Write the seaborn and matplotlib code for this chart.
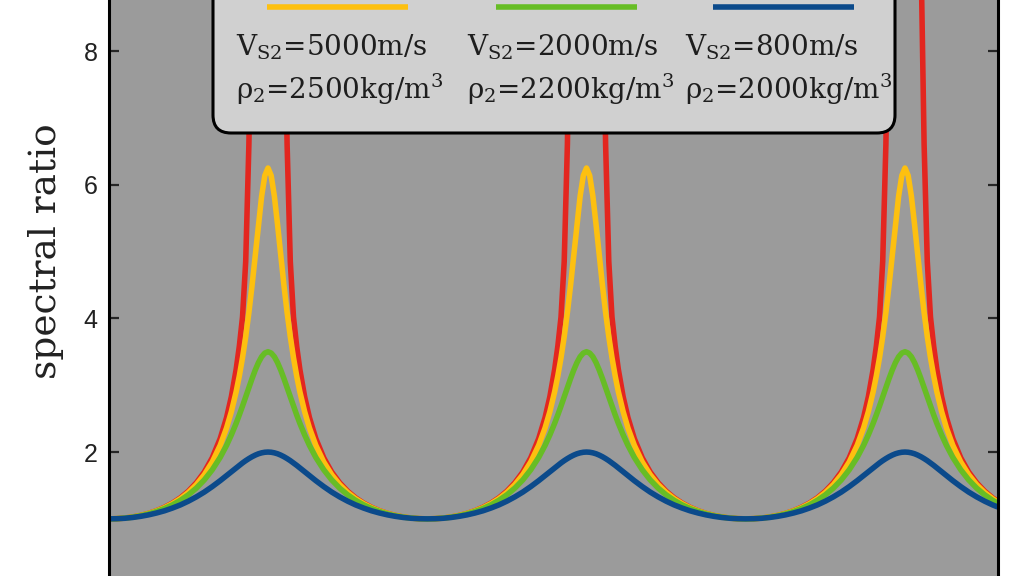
import pandas as pd
import seaborn as sns
import matplotlib.pyplot as plt
from matplotlib.lines import Line2D
from matplotlib.patches import FancyBboxPatch
from matplotlib.transforms import IdentityTransform

W, H = 1023, 576

# normalised frequency (resonance peaks at 1, 3, 5)
freq = [0.0, 0.05, 0.1, 0.15, 0.2, 0.25, 0.3, 0.35, 0.4, 0.45, 0.5, 0.55, 0.6, 0.65, 0.7, 0.74, 0.77, 0.8,
        0.82, 0.84, 0.86, 0.88, 0.9, 0.92, 0.94, 0.96, 0.98, 1.0, 1.02, 1.04, 1.06, 1.08, 1.1, 1.12, 1.14,
        1.16, 1.18, 1.2, 1.23, 1.26, 1.3, 1.35, 1.4, 1.45, 1.5, 1.55, 1.6, 1.65, 1.7, 1.75, 1.8, 1.85, 1.9, 1.95,
        2.0, 2.05, 2.1, 2.15, 2.2, 2.25, 2.3, 2.35, 2.4, 2.45, 2.5, 2.55, 2.6, 2.65, 2.7, 2.74, 2.77, 2.8,
        2.82, 2.84, 2.86, 2.88, 2.9, 2.92, 2.94, 2.96, 2.98, 3.0, 3.02, 3.04, 3.06, 3.08, 3.1, 3.12, 3.14,
        3.16, 3.18, 3.2, 3.23, 3.26, 3.3, 3.35, 3.4, 3.45, 3.5, 3.55, 3.6, 3.65, 3.7, 3.75, 3.8, 3.85, 3.9, 3.95,
        4.0, 4.05, 4.1, 4.15, 4.2, 4.25, 4.3, 4.35, 4.4, 4.45, 4.5, 4.55, 4.6, 4.65, 4.7, 4.74, 4.77, 4.8,
        4.82, 4.84, 4.86, 4.88, 4.9, 4.92, 4.94, 4.96, 4.98, 5.0, 5.02, 5.04, 5.06, 5.08, 5.1, 5.12, 5.14,
        5.16, 5.18, 5.2, 5.23, 5.26, 5.3, 5.35, 5.4, 5.45, 5.5, 5.55, 5.58]

ratio_rigid = [
    1.000, 1.003, 1.012, 1.028, 1.051, 1.082, 1.122, 1.173, 1.236, 1.315, 1.414, 1.540, 1.701, 1.914, 2.203, 2.518, 2.829, 3.236,
    3.584, 4.021, 4.85, 6.60, 9.50, 12.5, 16.0, 19.0, 22.0, 24.0, 22.0, 19.0, 16.0, 12.5, 9.50, 6.60, 4.85,
    4.021, 3.584, 3.236, 2.829, 2.518, 2.203, 1.914, 1.701, 1.540, 1.414, 1.315, 1.236, 1.173, 1.122, 1.082, 1.051, 1.028, 1.012, 1.003,
    1.000, 1.003, 1.012, 1.028, 1.051, 1.082, 1.122, 1.173, 1.236, 1.315, 1.414, 1.540, 1.701, 1.914, 2.203, 2.518, 2.829, 3.236,
    3.584, 4.021, 4.85, 6.60, 9.50, 12.5, 16.0, 19.0, 22.0, 24.0, 22.0, 19.0, 16.0, 12.5, 9.50, 6.60, 4.85,
    4.021, 3.584, 3.236, 2.829, 2.518, 2.203, 1.914, 1.701, 1.540, 1.414, 1.315, 1.236, 1.173, 1.122, 1.082, 1.051, 1.028, 1.012, 1.003,
    1.000, 1.003, 1.012, 1.028, 1.051, 1.082, 1.122, 1.173, 1.236, 1.315, 1.414, 1.540, 1.701, 1.914, 2.203, 2.518, 2.829, 3.236,
    3.584, 4.021, 4.85, 6.60, 9.50, 12.5, 16.0, 19.0, 22.0, 24.0, 22.0, 19.0, 16.0, 12.5, 9.50, 6.60, 4.85,
    4.021, 3.584, 3.236, 2.829, 2.518, 2.203, 1.914, 1.701, 1.540, 1.414, 1.315, 1.266]

ratio_5000 = [
    1.000, 1.003, 1.012, 1.028, 1.050, 1.080, 1.119, 1.167, 1.228, 1.303, 1.396, 1.513, 1.661, 1.852, 2.102, 2.362, 2.605, 2.903,
    3.140, 3.413, 3.728, 4.089, 4.497, 4.944, 5.405, 5.828, 6.136, 6.250, 6.136, 5.828, 5.405, 4.944, 4.497, 4.089, 3.728,
    3.413, 3.140, 2.903, 2.605, 2.362, 2.102, 1.852, 1.661, 1.513, 1.396, 1.303, 1.228, 1.167, 1.119, 1.080, 1.050, 1.028, 1.012, 1.003,
    1.000, 1.003, 1.012, 1.028, 1.050, 1.080, 1.119, 1.167, 1.228, 1.303, 1.396, 1.513, 1.661, 1.852, 2.102, 2.362, 2.605, 2.903,
    3.140, 3.413, 3.728, 4.089, 4.497, 4.944, 5.405, 5.828, 6.136, 6.250, 6.136, 5.828, 5.405, 4.944, 4.497, 4.089, 3.728,
    3.413, 3.140, 2.903, 2.605, 2.362, 2.102, 1.852, 1.661, 1.513, 1.396, 1.303, 1.228, 1.167, 1.119, 1.080, 1.050, 1.028, 1.012, 1.003,
    1.000, 1.003, 1.012, 1.028, 1.050, 1.080, 1.119, 1.167, 1.228, 1.303, 1.396, 1.513, 1.661, 1.852, 2.102, 2.362, 2.605, 2.903,
    3.140, 3.413, 3.728, 4.089, 4.497, 4.944, 5.405, 5.828, 6.136, 6.250, 6.136, 5.828, 5.405, 4.944, 4.497, 4.089, 3.728,
    3.413, 3.140, 2.903, 2.605, 2.362, 2.102, 1.852, 1.661, 1.513, 1.396, 1.303, 1.256]

ratio_2000 = [
    1.000, 1.003, 1.011, 1.026, 1.047, 1.075, 1.111, 1.155, 1.210, 1.278, 1.360, 1.460, 1.583, 1.735, 1.921, 2.101, 2.257, 2.430,
    2.556, 2.688, 2.825, 2.964, 3.100, 3.227, 3.338, 3.426, 3.481, 3.501, 3.481, 3.426, 3.338, 3.227, 3.100, 2.964, 2.825,
    2.688, 2.556, 2.430, 2.257, 2.101, 1.921, 1.735, 1.583, 1.460, 1.360, 1.278, 1.210, 1.155, 1.111, 1.075, 1.047, 1.026, 1.011, 1.003,
    1.000, 1.003, 1.011, 1.026, 1.047, 1.075, 1.111, 1.155, 1.210, 1.278, 1.360, 1.460, 1.583, 1.735, 1.921, 2.101, 2.257, 2.430,
    2.556, 2.688, 2.825, 2.964, 3.100, 3.227, 3.338, 3.426, 3.481, 3.501, 3.481, 3.426, 3.338, 3.227, 3.100, 2.964, 2.825,
    2.688, 2.556, 2.430, 2.257, 2.101, 1.921, 1.735, 1.583, 1.460, 1.360, 1.278, 1.210, 1.155, 1.111, 1.075, 1.047, 1.026, 1.011, 1.003,
    1.000, 1.003, 1.011, 1.026, 1.047, 1.075, 1.111, 1.155, 1.210, 1.278, 1.360, 1.460, 1.583, 1.735, 1.921, 2.101, 2.257, 2.430,
    2.556, 2.688, 2.825, 2.964, 3.100, 3.227, 3.338, 3.426, 3.481, 3.501, 3.481, 3.426, 3.338, 3.227, 3.100, 2.964, 2.825,
    2.688, 2.556, 2.430, 2.257, 2.101, 1.921, 1.735, 1.583, 1.460, 1.360, 1.278, 1.236]

ratio_800 = [
    1.000, 1.002, 1.009, 1.021, 1.038, 1.060, 1.088, 1.121, 1.162, 1.209, 1.265, 1.329, 1.401, 1.483, 1.572, 1.648, 1.706, 1.763,
    1.801, 1.837, 1.871, 1.902, 1.930, 1.954, 1.974, 1.988, 1.997, 2.000, 1.997, 1.988, 1.974, 1.954, 1.930, 1.902, 1.871,
    1.837, 1.801, 1.763, 1.706, 1.648, 1.572, 1.483, 1.401, 1.329, 1.265, 1.209, 1.162, 1.121, 1.088, 1.060, 1.038, 1.021, 1.009, 1.002,
    1.000, 1.002, 1.009, 1.021, 1.038, 1.060, 1.088, 1.121, 1.162, 1.209, 1.265, 1.329, 1.401, 1.483, 1.572, 1.648, 1.706, 1.763,
    1.801, 1.837, 1.871, 1.902, 1.930, 1.954, 1.974, 1.988, 1.997, 2.000, 1.997, 1.988, 1.974, 1.954, 1.930, 1.902, 1.871,
    1.837, 1.801, 1.763, 1.706, 1.648, 1.572, 1.483, 1.401, 1.329, 1.265, 1.209, 1.162, 1.121, 1.088, 1.060, 1.038, 1.021, 1.009, 1.002,
    1.000, 1.002, 1.009, 1.021, 1.038, 1.060, 1.088, 1.121, 1.162, 1.209, 1.265, 1.329, 1.401, 1.483, 1.572, 1.648, 1.706, 1.763,
    1.801, 1.837, 1.871, 1.902, 1.930, 1.954, 1.974, 1.988, 1.997, 2.000, 1.997, 1.988, 1.974, 1.954, 1.930, 1.902, 1.871,
    1.837, 1.801, 1.763, 1.706, 1.648, 1.572, 1.483, 1.401, 1.329, 1.265, 1.209, 1.180]

cases = ["rigid", "5000", "2000", "800"]
case_colors = {"rigid": "#e3261f", "5000": "#fdc010", "2000": "#67bd25", "800": "#0b4a8b"}

legend_cases = ["5000", "2000", "800"]
legend_vs = ["V$_{\\rm S2}$=5000m/s", "V$_{\\rm S2}$=2000m/s", "V$_{\\rm S2}$=800m/s"]
legend_rho = ["ρ$_2$=2500kg/m$^3$", "ρ$_2$=2200kg/m$^3$", "ρ$_2$=2000kg/m$^3$"]

y_ticks = [0, 2, 4, 6, 8]

df = pd.DataFrame({
    "freq": freq * 4,
    "ratio": ratio_rigid + ratio_5000 + ratio_2000 + ratio_800,
    "case": [c for c in cases for _ in freq],
})

sns.set_style("ticks")
plt.rcParams["font.family"] = ["Liberation Sans", "DejaVu Sans"]
plt.rcParams["mathtext.fontset"] = "dejavuserif"

fig = plt.figure(figsize=(W / 100, H / 100), dpi=100)
# axes run past the figure edges: the picture is a crop of a taller plot
ax = fig.add_axes([108.75 / W, -9.7 / H, 889.25 / W, 668.3 / H])
ax.set_facecolor("#9b9b9b")

sns.lineplot(data=df, x="freq", y="ratio", hue="case", hue_order=cases,
             palette=case_colors, linewidth=4.0, legend=False, ax=ax)

ax.set_xlim(0, 5.584)
ax.set_ylim(0, 10)
ax.set_yticks(y_ticks)
ax.set_xticks([])
ax.set_xlabel("")
ax.set_ylabel("spectral ratio", family="DejaVu Serif", fontsize=27, color="#222222", labelpad=14)
ax.tick_params(axis="y", direction="in", length=7, width=1.6, labelsize=18, pad=8,
               right=True, labelcolor="#222222")
for side in ["left", "right", "top", "bottom"]:
    ax.spines[side].set_linewidth(2.2)
    ax.spines[side].set_color("black")

# legend box, drawn in pixel coordinates (top is cut off in the picture)
pix = IdentityTransform()
box = FancyBboxPatch((213, H - 133), 895 - 213, 260,
                     boxstyle="round,pad=0,rounding_size=18",
                     transform=pix, facecolor="#d0d0d0", edgecolor="black",
                     linewidth=2.2, zorder=5)
fig.add_artist(box)

line_x = [(267, 408), (496, 637), (713, 854)]
text_x = [236, 467, 685]
for case, (x0, x1), tx, vs, rho in zip(legend_cases, line_x, text_x, legend_vs, legend_rho):
    fig.add_artist(Line2D([x0, x1], [H - 7, H - 7], transform=pix, color=case_colors[case],
                          linewidth=4.0, solid_capstyle="butt", zorder=6))
    fig.text(tx, H - 56, vs, transform=pix, family="DejaVu Serif", fontsize=20,
             color="#1e1e1e", va="baseline", ha="left", zorder=6)
    fig.text(tx, H - 99, rho, transform=pix, family="DejaVu Serif", fontsize=20,
             color="#1e1e1e", va="baseline", ha="left", zorder=6)

fig.savefig("out.png", dpi=100)
